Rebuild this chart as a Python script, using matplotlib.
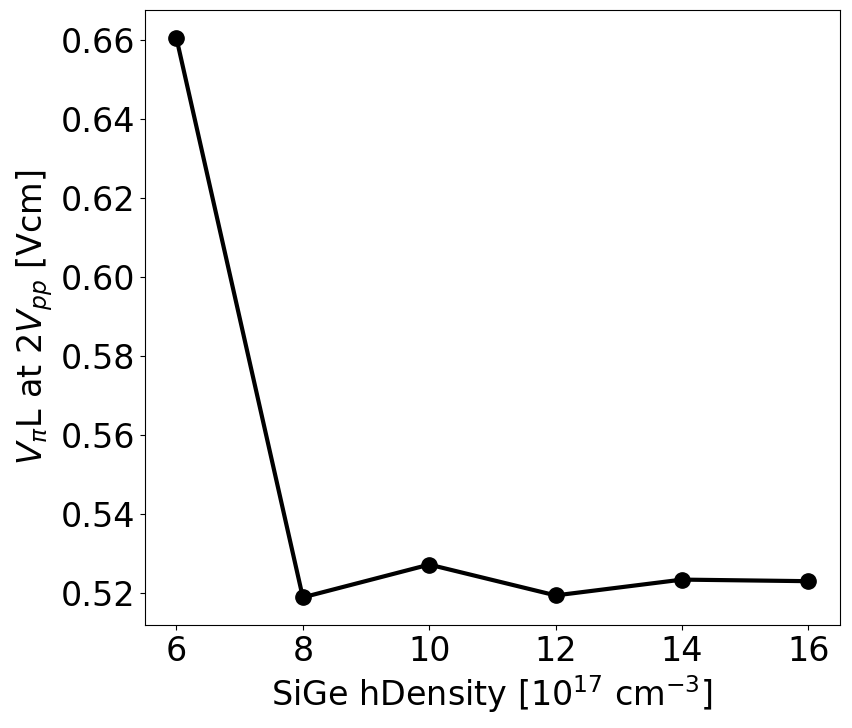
import matplotlib
matplotlib.use('Agg')
import matplotlib.pyplot as plt

# Data
density = [6, 8, 10, 12, 14, 16]
vpil = [0.6605, 0.5190, 0.5273, 0.5195, 0.5235, 0.5231]

fig = plt.figure(figsize=(8.52, 7.28), dpi=100)
ax = fig.add_axes([0.170, 0.141, 0.816, 0.845])
ax.plot(density, vpil, color='black', marker='o', linestyle='-', linewidth=3, markersize=11)
ax.set_xlabel(r'SiGe hDensity [$10^{17}$ cm$^{-3}$]', fontsize=24)
ax.set_ylabel(r'$V_{\pi}$L at 2$V_{pp}$ [Vcm]', fontsize=24)
ax.set_xticks([6, 8, 10, 12, 14, 16])
ax.set_yticks([0.52, 0.54, 0.56, 0.58, 0.60, 0.62, 0.64, 0.66])
ax.tick_params(labelsize=24)

plt.savefig('out.png', dpi=100)
